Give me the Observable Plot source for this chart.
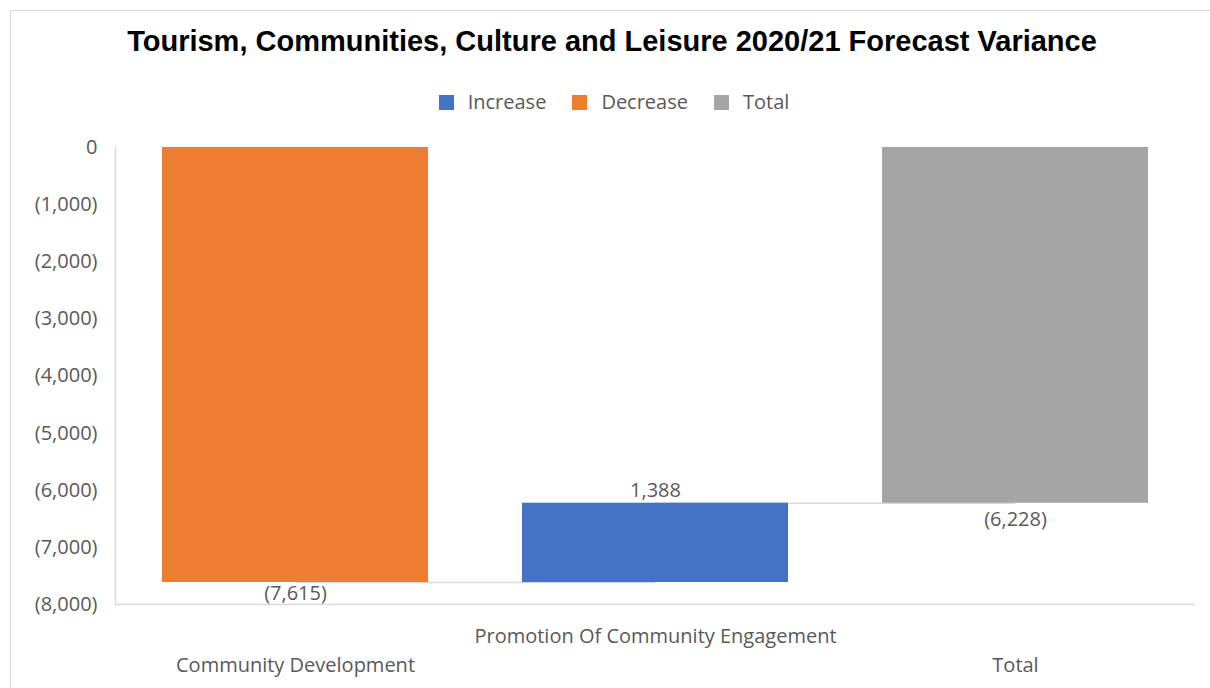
<!DOCTYPE html>
<html>
<head>
<meta charset="utf-8">
<script src="https://cdn.jsdelivr.net/npm/d3@7"></script>
<script src="https://cdn.jsdelivr.net/npm/@observablehq/plot@0.6"></script>
<style>
  html, body { margin: 0; padding: 0; background: #fff; }
  body { width: 1210px; height: 688px; overflow: hidden; position: relative; }
  #frame { position: absolute; left: 10px; top: 10px; width: 1300px; height: 800px; border: 1px solid #d9d9d9; box-sizing: border-box; pointer-events: none; }
  #title { position: relative; padding-top: 25px; height: 32px; line-height: 32px; text-align: center; font-family: "Liberation Sans", Arial, sans-serif; font-weight: bold; font-size: 29px; color: #000; padding-left: 14px; }
  #legend { position: relative; margin-top: 35px; height: 20px; line-height: 20px; display: flex; justify-content: center; gap: 26px; font-family: "Open Sans", sans-serif; font-size: 20px; color: #595959; padding-left: 18px; }
  .item { display: flex; align-items: center; gap: 14px; }
  .sw { width: 15px; height: 15px; display: inline-block; }
  #chart { position: relative; }
</style>
</head>
<body>
<div id="frame"></div>
<div id="title">Tourism, Communities, Culture and Leisure 2020/21 Forecast Variance</div>
<div id="legend"></div>
<div id="chart"></div>
<script>
// ---- data ----
const categories = ["Community Development", "Promotion Of Community Engagement", "Total"];
const values = [-7615, 1388, -6228];
const types = ["Decrease", "Increase", "Total"];
const legendTypes = ["Increase", "Decrease", "Total"];
const legendColors = ["#4472C4", "#ED7D31", "#A5A5A5"];
const yTicks = [0, -1000, -2000, -3000, -4000, -5000, -6000, -7000, -8000];

// ---- helpers ----
const num = d3.format(",");
const fmt = v => v < 0 ? `(${num(-v)})` : (v === 0 ? "0" : num(v));

let run = 0;
const rows = categories.map((c, i) => {
  const t = types[i];
  let y1, y2;
  if (t === "Total") { y1 = 0; y2 = values[i]; run = values[i]; }
  else { y1 = run; y2 = run + values[i]; run = y2; }
  return {category: c, type: t, value: values[i], y1, y2, label: fmt(values[i]),
          low: Math.min(y1, y2), high: Math.max(y1, y2)};
});
const connectors = rows.slice(0, -1).map((r, i) => ({from: r.category, to: rows[i + 1].category, y: r.y2}));

// ---- legend ----
const legend = document.getElementById("legend");
legendTypes.forEach((t, i) => {
  const it = document.createElement("div");
  it.className = "item";
  it.innerHTML = `<span class="sw" style="background:${legendColors[i]}"></span><span>${t}</span>`;
  legend.appendChild(it);
});

const font = "'Open Sans', sans-serif";
const textColor = "#595959";

const chart = Plot.plot({
  width: 1210,
  height: 576,
  marginTop: 35,
  marginBottom: 84,
  marginLeft: 115,
  marginRight: 15,
  style: {fontFamily: font, fontSize: "20px", color: textColor, background: "transparent"},
  x: {domain: categories, paddingInner: 0.26, paddingOuter: 0.13, axis: null},
  y: {domain: [-8000, 0], axis: null},
  color: {domain: legendTypes, range: legendColors},
  marks: [
    Plot.ruleY([-8000], {stroke: "#d9d9d9", strokeWidth: 1.5}),
    Plot.frame({anchor: "left", stroke: "#d9d9d9", strokeWidth: 1.5}),
    Plot.axisY(yTicks, {tickSize: 0, tickPadding: 18, tickFormat: fmt, fontSize: 20, fill: textColor, label: null}),
    Plot.link(connectors, {x1: "from", x2: "to", y1: "y", y2: "y", stroke: "#d9d9d9", strokeWidth: 1.5}),
    Plot.barY(rows, {x: "category", y1: "y1", y2: "y2", fill: "type"}),
    Plot.text([rows[0]], {x: "category", y: "low", text: "label", lineAnchor: "top", dy: 3, fill: textColor, fontSize: 20}),
    Plot.text([rows[1]], {x: "category", y: "high", text: "label", lineAnchor: "bottom", dy: -6, fill: textColor, fontSize: 20}),
    Plot.text([rows[2]], {x: "category", y: "low", text: "label", lineAnchor: "top", dy: 9, fill: textColor, fontSize: 20}),
    Plot.text([categories[0], categories[2]], {x: d => d, frameAnchor: "bottom", lineAnchor: "middle", dy: 61, fill: textColor, fontSize: 20}),
    Plot.text([categories[1]], {x: d => d, frameAnchor: "bottom", lineAnchor: "middle", dy: 32, fill: textColor, fontSize: 20})
  ]
});
document.getElementById("chart").appendChild(chart);
</script>
</body>
</html>
